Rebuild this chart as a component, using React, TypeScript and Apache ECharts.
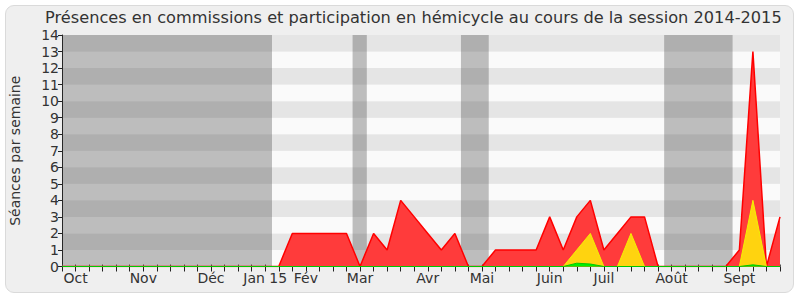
import React, { useEffect, useRef } from "react";
import * as echarts from "echarts";

// Week index 0 = Monday 29 Sept 2014, 53 = Monday 5 Oct 2015
const weekCount = 53;
const monthLabels: { [week: number]: string } = {
  1: "Oct", 6: "Nov", 11: "Déc", 15: "Jan 15", 18: "Fév", 22: "Mar",
  27: "Avr", 31: "Mai", 36: "Juin", 40: "Juil", 45: "Août", 50: "Sept",
};

// Présences (red), participation (yellow), interventions (green) per week
const redValues = [
  0, 0, 0, 0, 0, 0, 0, 0, 0, 0, 0, 0, 0, 0, 0, 0,
  0, 2, 2, 2, 2, 2, 0, 2, 1, 4, 3, 2, 1, 2, 0, 0,
  1, 1, 1, 1, 3, 1, 3, 4, 1, 2, 3, 3, 0, 0, 0, 0,
  0, 0, 1, 13, 0, 3,
];
const yellowValues = [
  0, 0, 0, 0, 0, 0, 0, 0, 0, 0, 0, 0, 0, 0, 0, 0,
  0, 0, 0, 0, 0, 0, 0, 0, 0, 0, 0, 0, 0, 0, 0, 0,
  0, 0, 0, 0, 0, 0, 1, 2, 0, 0, 2, 0, 0, 0, 0, 0,
  0, 0, 0, 4, 0, 0,
];
const greenValues = [
  0, 0, 0, 0, 0, 0, 0, 0, 0, 0, 0, 0, 0, 0, 0, 0,
  0, 0, 0, 0, 0, 0, 0, 0, 0, 0, 0, 0, 0, 0, 0, 0,
  0, 0, 0, 0, 0, 0, 0.2, 0.15, 0, 0, 0, 0, 0, 0, 0, 0,
  0, 0, 0, 0.1, 0, 0,
];
// Parliamentary recess periods (in weeks)
const recessStarts = [0, 21.45, 29.45, 44.45];
const recessEnds = [15.5, 22.5, 31.5, 49.5];

const title =
  "Présences en commissions et participation en hémicycle au cours de la session 2014-2015";
const yAxisName = "Séances par semaine";

const FONT = "DejaVu Sans";

export default function App() {
  const ref = useRef<HTMLDivElement>(null);

  useEffect(() => {
    document.body.style.margin = "0";
    if (!ref.current) return;
    const chart = echarts.init(ref.current, undefined, { renderer: "svg" });
    const toPairs = (vals: number[]) => vals.map((v, i) => [i, v]);

    chart.setOption({
      animation: false,
      backgroundColor: "transparent",
      textStyle: { fontFamily: FONT },
      title: {
        text: title,
        left: 45,
        top: 9,
        padding: 0,
        textStyle: { fontFamily: FONT, fontSize: 16.2, fontWeight: "normal", color: "#333" },
      },
      grid: { left: 62, right: 20, top: 35, bottom: 33.5, containLabel: false },
      xAxis: [
        {
          type: "value",
          min: 0,
          max: weekCount,
          interval: 1,
          position: "bottom",
          axisLine: { show: true, onZero: false, lineStyle: { color: "#222", width: 1 } },
          axisTick: { show: true, length: 5, lineStyle: { color: "#222" } },
          axisLabel: {
            show: true,
            fontFamily: FONT,
            fontSize: 14,
            color: "#333",
            margin: 4,
            formatter: (v: number) => monthLabels[Math.round(v)] || "",
          },
          splitLine: { show: false },
        },
        {
          type: "value",
          min: 0,
          max: weekCount,
          interval: 1,
          position: "top",
          axisLine: { show: false },
          axisTick: { show: true, length: 2, lineStyle: { color: "#555" } },
          axisLabel: { show: false },
          splitLine: { show: false },
        },
      ],
      yAxis: {
        type: "value",
        min: 0,
        max: 14,
        interval: 1,
        name: yAxisName,
        nameLocation: "middle",
        nameGap: 40,
        nameTextStyle: { fontFamily: FONT, fontSize: 14, color: "#333" },
        axisLine: { show: true, lineStyle: { color: "#222" } },
        axisTick: { show: true, length: 4, lineStyle: { color: "#222" } },
        axisLabel: { fontFamily: FONT, fontSize: 14, color: "#333", margin: 3 },
        splitLine: { show: false },
        splitArea: { show: true, areaStyle: { color: ["#fafafa", "#e5e5e5"] } },
      },
      series: [
        {
          name: "Présences",
          type: "line",
          data: toPairs(redValues),
          symbol: "none",
          z: 2,
          lineStyle: { color: "#ff0000", width: 1.5 },
          areaStyle: { color: "#ff3b3b", opacity: 1 },
        },
        {
          name: "Participation",
          type: "line",
          data: toPairs(yellowValues),
          symbol: "none",
          z: 3,
          lineStyle: { color: "#f2f200", width: 1 },
          areaStyle: { color: "#ffd30f", opacity: 1 },
        },
        {
          name: "Interventions",
          type: "line",
          data: toPairs(greenValues),
          symbol: "none",
          z: 4,
          lineStyle: { color: "#00c800", width: 1 },
          areaStyle: { color: "#00f000", opacity: 1 },
        },
        {
          name: "Vacances",
          type: "line",
          data: [],
          z: 10,
          markArea: {
            silent: true,
            itemStyle: { color: "rgba(50,50,50,0.3)" },
            data: recessStarts.map((s, i) => [{ xAxis: s }, { xAxis: recessEnds[i] }]),
          },
        },
      ],
    });
    return () => chart.dispose();
  }, []);

  return (
    <div style={{ position: "relative", width: 800, height: 300, background: "#fff" }}>
      <div
        style={{
          position: "absolute",
          left: 5,
          top: 5,
          width: 787,
          height: 286,
          background: "#efefef",
          border: "1px solid #dadada",
          borderRadius: 9,
        }}
      />
      <div ref={ref} style={{ position: "absolute", left: 0, top: 0, width: 800, height: 300 }} />
    </div>
  );
}
